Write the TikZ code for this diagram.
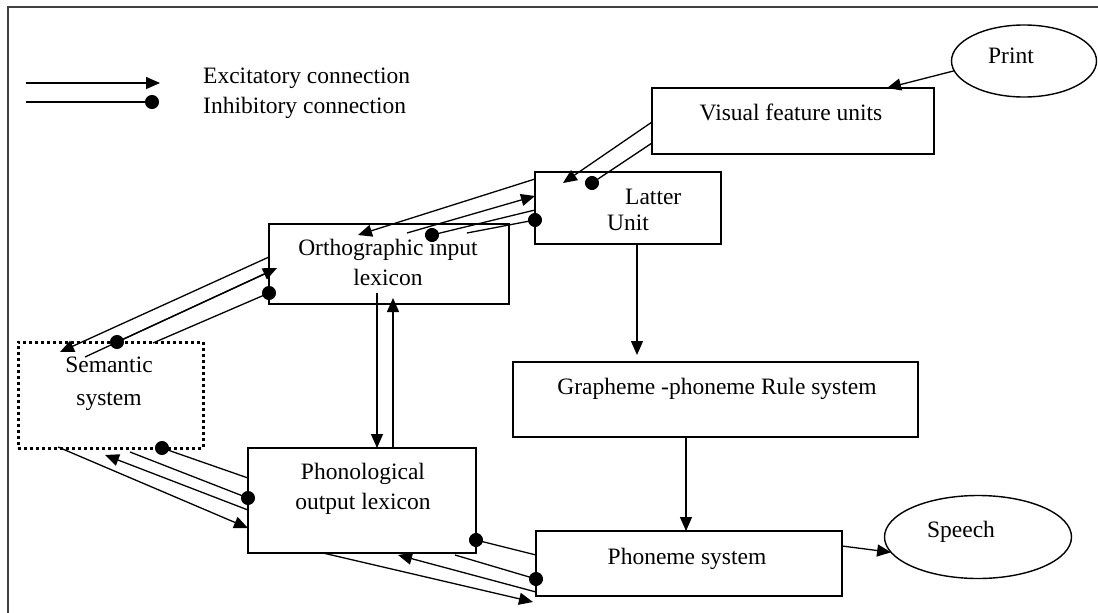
\documentclass[tikz,border=0pt]{standalone}
\usepackage{fontspec}
\setmainfont{Liberation Serif}
\usetikzlibrary{arrows.meta,calc,shapes.geometric}

\begin{document}
\begin{tikzpicture}[x=1pt,y=-1pt,
  font=\fontsize{23.5}{30}\selectfont,
  box/.style={draw, line width=1.4pt, inner sep=0pt, outer sep=0pt},
  oval/.style={ellipse, draw, line width=1.4pt, inner sep=0pt, outer sep=0pt},
  dotbox/.style={draw, line width=3pt, dash pattern=on 3pt off 3pt, inner sep=0pt, outer sep=0pt},
  txt/.style={inner sep=0pt, anchor=base},
  ltxt/.style={inner sep=0pt, anchor=base west},
  exc/.style={line width=1.3pt, -{Triangle[length=14pt,width=12pt]}},
  inh/.style={line width=1.3pt, -{Circle[length=14pt]}, shorten >=-7pt},
]
\useasboundingbox (0,0) rectangle (1098,613);

% frame
\draw[line width=2.5pt, black!75] (8,613) -- (8,7) -- (1098,7);

% legend
\coordinate (exA) at (26,83);
\coordinate (exB) at (160,83);
\coordinate (inA) at (26,102);
\coordinate (inB) at (152,102);
\draw[exc] (exA) -- (exB);
\draw[inh] (inA) -- (inB);
\node[ltxt] (exT) at (203,83) {Excitatory connection};
\node[ltxt] (inT) at (203,113) {Inhibitory connection};

% units
\node[oval, minimum width=145pt, minimum height=72pt] (print) at (1024,61) {};
\node[txt] (printT) at (1011,63) {Print};
\node[box, minimum width=282pt, minimum height=66pt] (vis) at (793,121) {};
\node[txt] (visT) at (791,120) {Visual feature units};
\node[box, minimum width=186pt, minimum height=72pt] (latter) at (628,208) {};
\node[ltxt] (latterA) at (625,204) {Latter};
\node[ltxt] (latterB) at (607,230) {Unit};
\node[box, minimum width=240pt, minimum height=80pt] (ortho) at (389,264) {};
\node[txt] (orthoA) at (388,255) {Orthographic input};
\node[txt] (orthoB) at (388,285) {lexicon};
\node[dotbox, minimum width=185pt, minimum height=106pt] (sem) at (110.5,395) {};
\node[txt] (semA) at (109,372) {Semantic};
\node[txt] (semB) at (109,405) {system};
\node[box, minimum width=228pt, minimum height=105pt] (phono) at (362,500.5) {};
\node[txt] (phonoA) at (363,479) {Phonological};
\node[txt] (phonoB) at (363,509) {output lexicon};
\node[box, minimum width=405pt, minimum height=75pt] (graph) at (715.5,399.5) {};
\node[txt] (graphT) at (717,394) {Grapheme -phoneme Rule system};
\node[box, minimum width=306pt, minimum height=65pt] (phon) at (689,563.5) {};
\node[txt] (phonT) at (687,564) {Phoneme system};
\node[oval, minimum width=187pt, minimum height=83pt] (speech) at (978,537) {};
\node[txt] (speechT) at (961,537) {Speech};

% print -> visual features
\draw[exc] (print.188) -- ($(vis.north east)+(-47,0)$);

% visual features -> letter units
\draw[exc] ($(vis.north west)+(0,34)$) -- ($(latter.north west)+(28,11)$);
\draw[inh] ($(vis.north west)+(0,55)$) -- ($(latter.north west)+(57,11)$);

% letter units <-> orthographic lexicon
\draw[exc] ($(latter.north west)+(0,7)$) -- ($(ortho.north west)+(89,11)$);
\draw[exc] ($(ortho.north west)+(138,9)$) -- ($(latter.north west)+(0,24)$);
\draw[inh] ($(latter.north west)+(0,38)$) -- ($(ortho.north west)+(163,11)$);
\draw[inh] ($(ortho.north west)+(198,9)$) -- ($(latter.north west)+(0,48)$);

% orthographic lexicon <-> semantic system
\draw[exc] ($(ortho.north west)+(0,33)$) -- ($(sem.north west)+(42,10)$);
\draw[exc] ($(sem.north west)+(67,15)$) -- ($(ortho.north west)+(8,44)$);
\draw[inh] ($(ortho.north west)+(0,48)$) -- ($(sem.north west)+(99,0)$);
\draw[inh] ($(sem.north west)+(135,1)$) -- ($(ortho.north west)+(0,69)$);

% semantic system <-> phonological lexicon
\draw[inh] ($(phono.north west)+(0,30)$) -- ($(sem.south west)+(144,0)$);
\draw[inh] ($(sem.south west)+(112,4)$) -- ($(phono.north west)+(0,50)$);
\draw[exc] ($(phono.north west)+(0,62)$) -- ($(sem.south west)+(87,7)$);
\draw[exc] ($(sem.south west)+(40,-1)$) -- ($(phono.north west)+(0,80)$);

% orthographic lexicon <-> phonological lexicon
\draw[exc] ($(ortho.south west)+(108,-11)$) -- ($(phono.north west)+(129,0)$);
\draw[exc] ($(phono.north west)+(145,0)$) -- ($(ortho.south west)+(124,-6)$);

% letter units -> rules -> phonemes -> speech
\draw[exc] ($(latter.south west)+(102,0)$) -- ($(graph.north west)+(124,-7)$);
\draw[exc] ($(graph.south west)+(173,0)$) -- ($(phon.north west)+(150,0)$);
\draw[exc] ($(phon.north east)+(0,15)$) -- (speech.190);

% phonological lexicon <-> phoneme system
\draw[inh] ($(phon.north west)+(0,24)$) -- ($(phono.south east)+(0,-13)$);
\draw[exc] ($(phon.north west)+(0,61)$) -- ($(phono.south west)+(150,2)$);
\draw[inh] ($(phono.south west)+(207,2)$) -- ($(phon.north west)+(0,48)$);
\draw[exc] ($(phono.south west)+(75,0)$) -- ($(phon.south west)+(-3,6)$);
\end{tikzpicture}
\end{document}
